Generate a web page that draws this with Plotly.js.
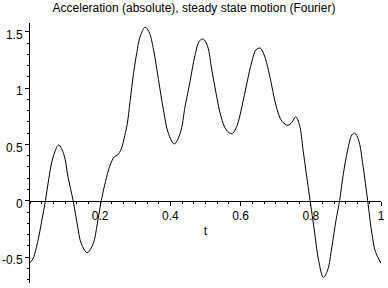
<!DOCTYPE html>
<html>
<head>
<meta charset="utf-8">
<script src="https://cdn.plot.ly/plotly-3.0.1.min.js"></script>
<style>html,body{margin:0;padding:0;background:#fff;}#chart{width:388px;height:288px;}</style>
</head>
<body>
<div id="chart"></div>
<script>
const tValues = [0, 0.009, 0.023, 0.034, 0.044, 0.053, 0.066, 0.082, 0.097, 0.108, 0.123, 0.135, 0.146, 0.163, 0.18, 0.192, 0.203, 0.215, 0.227, 0.24, 0.249, 0.26, 0.27, 0.277, 0.285, 0.295, 0.304, 0.314, 0.328, 0.339, 0.352, 0.366, 0.38, 0.394, 0.411, 0.428, 0.442, 0.456, 0.47, 0.483, 0.494, 0.506, 0.518, 0.53, 0.544, 0.559, 0.575, 0.589, 0.604, 0.618, 0.632, 0.644, 0.656, 0.667, 0.68, 0.692, 0.703, 0.718, 0.735, 0.746, 0.757, 0.768, 0.778, 0.787, 0.798, 0.81, 0.822, 0.836, 0.848, 0.86, 0.872, 0.882, 0.893, 0.905, 0.917, 0.925, 0.936, 0.949, 0.962, 0.974, 0.984, 1.0];
const accelValues = [-0.55, -0.51, -0.35, -0.17, 0, 0.185, 0.39, 0.495, 0.405, 0.215, 0, -0.215, -0.38, -0.46, -0.38, -0.2, 0, 0.17, 0.305, 0.39, 0.405, 0.46, 0.58, 0.68, 0.88, 1.13, 1.31, 1.46, 1.54, 1.50, 1.34, 1.075, 0.81, 0.60, 0.505, 0.60, 0.84, 1.06, 1.29, 1.42, 1.435, 1.37, 1.16, 0.955, 0.75, 0.63, 0.595, 0.66, 0.84, 1.045, 1.235, 1.34, 1.355, 1.295, 1.15, 0.97, 0.82, 0.705, 0.67, 0.695, 0.745, 0.67, 0.45, 0.245, 0, -0.26, -0.525, -0.68, -0.615, -0.41, -0.17, 0, 0.245, 0.45, 0.585, 0.60, 0.54, 0.305, 0, -0.29, -0.45, -0.555];
const xTickVals = [0.2, 0.4, 0.6, 0.8, 1];
const xTickText = ['0.2', '0.4', '0.6', '0.8', '1'];
const yTickVals = [-0.5, 0, 0.5, 1, 1.5];
const yTickText = ['-0.5', '0', '0.5', '1', '1.5'];
const titleText = 'Acceleration (absolute), steady state motion (Fourier)';
const xTitle = 't';

const yMin = -0.73, yMax = 1.578;
const font = {family: 'Liberation Sans, Arial, sans-serif', size: 12, color: '#000'};

Plotly.newPlot('chart', [{
  x: tValues, y: accelValues, type: 'scatter', mode: 'lines',
  line: {color: '#000', width: 1, shape: 'spline', smoothing: 1},
  hoverinfo: 'skip'
}], {
  width: 388, height: 288,
  margin: {l: 30, r: 7, t: 23, b: 5},
  paper_bgcolor: '#fff', plot_bgcolor: '#fff',
  font: font,
  showlegend: false,
  title: {text: titleText, font: {family: font.family, size: 12, color: '#000'}, x: 0.5, xanchor: 'center', y: 0.974, yanchor: 'middle'},
  xaxis: {
    range: [0, 1], anchor: 'free', position: (0 - yMin) / (yMax - yMin),
    showline: true, linecolor: '#000', linewidth: 1,
    showgrid: false, zeroline: false,
    tickmode: 'array', tickvals: xTickVals, ticktext: xTickText,
    ticks: 'outside', ticklen: 4, tickcolor: '#000', tickwidth: 1,
    minor: {tick0: 0, dtick: 1/30, ticks: 'outside', ticklen: 2, tickcolor: '#000', showgrid: false},
    tickfont: font,
    title: {text: xTitle, font: font, standoff: 4}
  },
  yaxis: {
    range: [yMin, yMax],
    showline: true, linecolor: '#000', linewidth: 1,
    showgrid: false, zeroline: false,
    tickmode: 'array', tickvals: yTickVals, ticktext: yTickText,
    ticks: 'outside', ticklen: 4, tickcolor: '#000', tickwidth: 1,
    ticklabelshift: 3,
    minor: {tick0: 0, dtick: 0.1, ticks: 'outside', ticklen: 2, tickcolor: '#000', showgrid: false},
    tickfont: font
  }
}, {staticPlot: true, displayModeBar: false});
</script>
</body>
</html>
